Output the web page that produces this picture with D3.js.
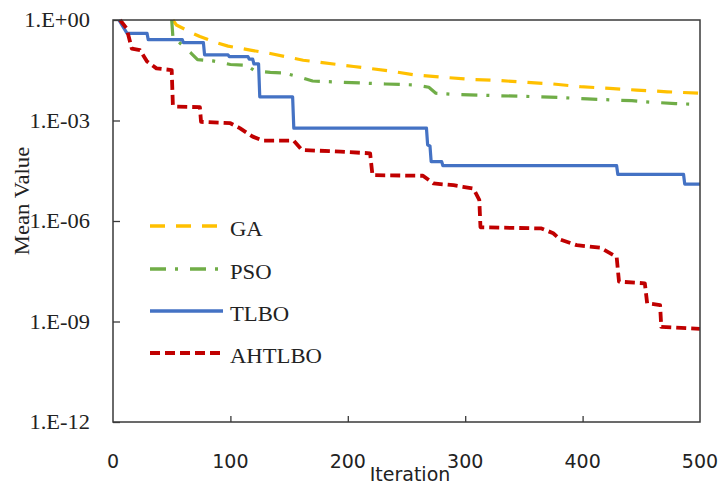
<!DOCTYPE html>
<html><head><meta charset="utf-8">
<script src="https://cdn.jsdelivr.net/npm/d3@7/dist/d3.min.js"></script>
<style>
body{margin:0;background:#fff}svg{display:block}
.serif{font-family:"Liberation Serif","Times New Roman","DejaVu Serif",serif;}
.sans{font-family:"DejaVu Sans",Verdana,sans-serif;}
</style>
</head><body>
<svg id="c" width="719" height="484"></svg>
<script>
const seriesNames = ["GA", "PSO", "TLBO", "AHTLBO"];
const gaIter = [51,54,68,74,88,98,117,134,162,205,236,257,281,304,330,352,375,398,423,446,472,500];
const gaVal  = [1,0.71,0.40,0.32,0.21,0.166,0.126,0.1,0.063,0.041,0.030,0.023,0.0195,0.017,0.0155,0.0138,0.0123,0.0102,0.0091,0.0081,0.0072,0.0065];
const psoIter = [50,51,66,72,85,100,114,121,134,145,158,170,191,210,232,257,269,275,291,328,365,379,404,442,454,479,500];
const psoVal  = [1,0.32,0.107,0.066,0.060,0.047,0.044,0.030,0.0275,0.0263,0.0204,0.0151,0.0141,0.0132,0.0123,0.0115,0.0098,0.0065,0.0060,0.0055,0.0051,0.0049,0.0044,0.0039,0.0036,0.0032,0.0030];
const tlboIter = [5,12,29,30,59,60,77,78,98,99,115,116,119,120,124,125,153,154,267,268,270,271,280,281,429,430,486,487,500];
const tlboVal  = [1,0.40,0.40,0.26,0.26,0.21,0.21,0.091,0.091,0.081,0.081,0.068,0.068,0.049,0.049,0.0051,0.0051,0.00059,0.00059,0.000186,0.000174,5.89e-5,5.89e-5,4.47e-5,4.47e-5,2.45e-5,2.45e-5,1.26e-5,1.26e-5];
const ahIter = [6,11.6,16,23,29,37,50,51,53,74,75,100,108,119,128,154,161,194,219,221,264,273,290,298,307,312,313,365,375,381,395,415,429,431,453,455,466,467,500];
const ahVal  = [1,0.56,0.14,0.126,0.058,0.036,0.032,0.0029,0.0026,0.0025,0.00091,0.00083,0.00059,0.00033,0.00025,0.00025,0.000132,0.000117,0.000105,2.34e-5,2.24e-5,1.32e-5,1.17e-5,1.05e-5,9.3e-6,4.3e-6,6.5e-7,6.0e-7,4.3e-7,2.8e-7,1.9e-7,1.6e-7,8.5e-8,1.55e-8,1.38e-8,3.5e-9,3.1e-9,6.9e-10,6.0e-10];
const xTicks = [0,100,200,300,400,500];
const yTicks = [1,1e-3,1e-6,1e-9,1e-12];
const yTickLabels = ["1.E+00","1.E-03","1.E-06","1.E-09","1.E-12"];

const L=113, R=700, T=20, B=422;
const svg = d3.select("#c");
const x = d3.scaleLinear().domain([0,500]).range([L,R]);
const y = d3.scaleLog().domain([1e-12,1]).range([B,T]);

svg.append("defs").append("clipPath").attr("id","clip")
  .append("rect").attr("x",L).attr("y",T-2).attr("width",R-L).attr("height",B-T+2);

const styles = [
  {color:"#FFC000", width:3.2, dash:"15,11"},
  {color:"#70AD47", width:3.2, dash:"16,9,3,12"},
  {color:"#4472C4", width:3.2, dash:null},
  {color:"#C00000", width:3.8, dash:"10,5"}
];
const data = [
  gaIter.map((d,i)=>[d,gaVal[i]]),
  psoIter.map((d,i)=>[d,psoVal[i]]),
  tlboIter.map((d,i)=>[d,tlboVal[i]]),
  ahIter.map((d,i)=>[d,ahVal[i]])
];
const line = d3.line().x(d=>x(d[0])).y(d=>y(d[1]));
const g = svg.append("g").attr("clip-path","url(#clip)");
data.forEach((s,i)=>{
  g.append("path").attr("d",line(s)).attr("fill","none")
   .attr("stroke",styles[i].color).attr("stroke-width",styles[i].width)
   .attr("stroke-dasharray",styles[i].dash).attr("stroke-linejoin","round");
});

const ax = "#3a3a3a";
svg.append("rect").attr("x",L).attr("y",T).attr("width",R-L).attr("height",B-T)
  .attr("fill","none").attr("stroke",ax).attr("stroke-width",1.5);

const yAxis = d3.axisRight(y).tickValues(yTicks).tickSize(7).tickFormat("");
const ya = svg.append("g").attr("transform",`translate(${L},0)`).call(yAxis);
ya.select(".domain").remove();
ya.selectAll("line").attr("stroke",ax).attr("stroke-width",1.3);
const xAxis = d3.axisTop(x).tickValues(xTicks.slice(1,-1)).tickSize(6).tickFormat("");
const xa = svg.append("g").attr("transform",`translate(0,${B})`).call(xAxis);
xa.select(".domain").remove();
xa.selectAll("line").attr("stroke",ax).attr("stroke-width",1.3);

yTicks.forEach((t,i)=>{
  svg.append("text").attr("class","serif").attr("transform",`translate(90,${y(t)+7}) scale(1.07,1)`)
    .attr("text-anchor","end").style("font-size","21px")
    .attr("fill","#222").text(yTickLabels[i]);
});
xTicks.forEach(t=>{
  svg.append("text").attr("class","sans").attr("x",x(t)).attr("y",468).attr("text-anchor","middle")
    .style("font-size","19px").attr("fill","#222").text(t);
});
svg.append("text").attr("class","serif").attr("transform","translate(29,201) rotate(-90) scale(1.08,1)")
  .attr("text-anchor","middle").style("font-size","21px")
  .attr("fill","#222").text("Mean Value");
svg.append("text").attr("class","sans").attr("x",410).attr("y",481).attr("text-anchor","middle")
  .style("font-size","19px").attr("fill","#222").text("Iteration");

const legY = [226,269,311,353];
seriesNames.forEach((n,i)=>{
  svg.append("line").attr("x1",150).attr("x2",223).attr("y1",legY[i]).attr("y2",legY[i])
    .attr("stroke",styles[i].color).attr("stroke-width",styles[i].width+0.3)
    .attr("stroke-dasharray",styles[i].dash);
  svg.append("text").attr("class","serif").attr("transform",`translate(230,${legY[i]+10}) scale(1.08,1)`)
    .style("font-size","21px").attr("fill","#222").text(n);
});
</script>
</body></html>
